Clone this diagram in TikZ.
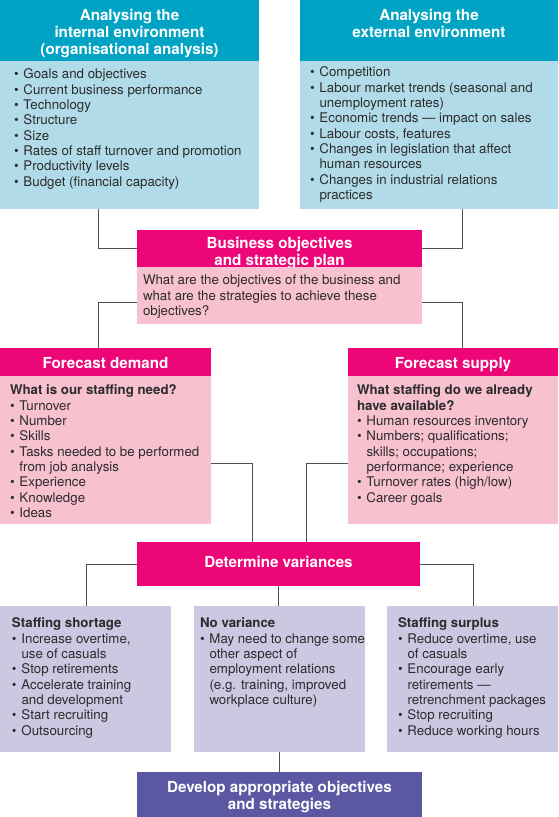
\documentclass[tikz,border=0pt]{standalone}
\usepackage{fontspec}
\setmainfont{TeX Gyre Heros}
\usepackage{xcolor}
\usetikzlibrary{positioning}
\definecolor{tealhead}{HTML}{00A3C4}
\definecolor{bluebody}{HTML}{B1DBE8}
\definecolor{magenta}{HTML}{EC0677}
\definecolor{pinkbody}{HTML}{F7C1D0}
\definecolor{lavender}{HTML}{CBC8E2}
\definecolor{purplehead}{HTML}{5B57A2}
\definecolor{textgrey}{HTML}{2B2B2B}
\definecolor{linegrey}{HTML}{505050}
\newcommand{\bodyfont}{\fontsize{13.3}{15.3}\selectfont}
\newcommand{\headfont}{\bfseries\fontsize{15.2}{17}\selectfont}
\newcommand{\bitem}{\par\hangindent=9.5pt\hangafter=1\makebox[9.5pt][l]{\textbullet}}
\newcommand{\boxtext}[5]{\parbox[t][#2][t]{#1}{\raggedright\leftskip=#3\relax\vspace*{#4}#5}}
\tikzset{
  box/.style={anchor=north west, inner sep=0pt, outer sep=0pt},
  headbox/.style={box, text=white, font=\headfont},
  bodybox/.style={box, text=textgrey, font=\bodyfont},
  link/.style={draw=linegrey, line width=1pt},
  every picture/.style={line cap=butt, line join=miter}
}
\begin{document}
\begin{tikzpicture}[x=1pt,y=-1pt]
  \useasboundingbox (0,0) rectangle (558,817);
  % environment analysis
  \node[headbox,fill=tealhead] (inth) at (0,0) {\boxtext{259pt}{61pt}{0pt}{9.5pt}{\centering Analysing the\\internal environment\\(organisational analysis)}};
  \node[bodybox,fill=bluebody] (intb) at (0,61) {\boxtext{259pt}{148pt}{14pt}{8pt}{\bitem Goals and objectives \bitem Current business performance \bitem Technology \bitem Structure \bitem Size \bitem Rates of staff turnover and promotion \bitem Productivity levels \bitem Budget (financial capacity)}};
  \node[headbox,fill=tealhead] (exth) at (300,0) {\boxtext{258pt}{61pt}{0pt}{9.5pt}{\centering Analysing the\\external environment}};
  \node[bodybox,fill=bluebody] (extb) at (300,61) {\boxtext{258pt}{148pt}{10pt}{6pt}{\bitem Competition \bitem Labour market trends (seasonal and\newline unemployment rates) \bitem Economic trends — impact on sales \bitem Labour costs, features \bitem Changes in legislation that affect\newline human resources \bitem Changes in industrial relations\newline practices}};
  % plan
  \node[headbox,fill=magenta] (planh) at (137,230) {\boxtext{285pt}{37pt}{0pt}{7pt}{\centering Business objectives\\and strategic plan}};
  \node[bodybox,fill=pinkbody] (planb) at (137,267) {\boxtext{285pt}{57pt}{6pt}{8pt}{What are the objectives of the business and\newline what are the strategies to achieve these\newline objectives?}};
  % forecasts
  \node[headbox,fill=magenta] (demh) at (0,348) {\boxtext{211pt}{28pt}{0pt}{9pt}{\centering Forecast demand}};
  \node[bodybox,fill=pinkbody] (demb) at (0,376) {\boxtext{211pt}{148pt}{10pt}{9pt}{\textbf{What is our staffing need?} \bitem Turnover \bitem Number \bitem Skills \bitem Tasks needed to be performed\newline from job analysis \bitem Experience \bitem Knowledge \bitem Ideas}};
  \node[headbox,fill=magenta] (suph) at (348,348) {\boxtext{210pt}{28pt}{0pt}{9pt}{\centering Forecast supply}};
  \node[bodybox,fill=pinkbody] (supb) at (348,376) {\boxtext{210pt}{148pt}{9pt}{9pt}{\textbf{What staffing do we already\newline have available?} \bitem Human resources inventory \bitem Numbers; qualifications;\newline skills; occupations;\newline performance; experience \bitem Turnover rates (high/low) \bitem Career goals}};
  % variances
  \node[headbox,fill=magenta] (dv) at (137,542) {\boxtext{283pt}{44pt}{0pt}{14.5pt}{\centering Determine variances}};
  \node[bodybox,fill=lavender] (short) at (0,606) {\boxtext{171pt}{146pt}{12pt}{12pt}{\textbf{Staffing shortage} \bitem Increase overtime,\newline use of casuals \bitem Stop retirements \bitem Accelerate training\newline and development \bitem Start recruiting \bitem Outsourcing}};
  \node[bodybox,fill=lavender] (nv) at (194,606) {\boxtext{171pt}{146pt}{6pt}{12pt}{\textbf{No variance} \bitem May need to change some\newline other aspect of\newline employment relations\newline (e.g. training, improved\newline workplace culture)}};
  \node[bodybox,fill=lavender] (surp) at (387,606) {\boxtext{171pt}{146pt}{11pt}{12pt}{\textbf{Staffing surplus} \bitem Reduce overtime, use\newline of casuals \bitem Encourage early\newline retirements —\newline retrenchment packages \bitem Stop recruiting \bitem Reduce working hours}};
  \node[headbox,fill=purplehead] (devp) at (137,772) {\boxtext{285pt}{45pt}{0pt}{9pt}{\centering Develop appropriate objectives\\and strategies}};
  % connectors
  \draw[link] ([xshift=98pt]intb.south west) |- (planh.west);
  \draw[link] ([xshift=162pt]extb.south west) |- (planh.east);
  \draw[link] ([yshift=-6.5pt]planb.west) -| ([xshift=98pt]demh.north west);
  \draw[link] ([yshift=-6.5pt]planb.east) -| ([xshift=114pt]suph.north west);
  \draw[link] ([yshift=-13pt]demb.east) -| ([xshift=115pt]dv.north west);
  \draw[link] ([yshift=-13pt]supb.west) -| ([xshift=169pt]dv.north west);
  \draw[link] (dv.west) -| ([xshift=86pt]short.north west);
  \draw[link] (dv.east) -| ([xshift=86pt]surp.north west);
  \draw[link] (dv.south) -- (dv.south |- nv.north);
  \draw[link] (nv.south) -- (nv.south |- devp.north);
\end{tikzpicture}
\end{document}
